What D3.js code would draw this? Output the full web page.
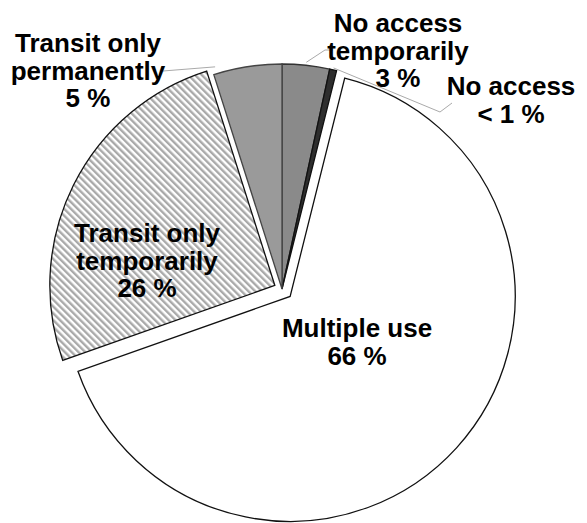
<!DOCTYPE html>
<html>
<head>
<meta charset="utf-8">
<script src="https://cdn.jsdelivr.net/npm/d3@7/dist/d3.min.js"></script>
<style>
  body { margin: 0; background: #fff; }
  text { font-family: "Liberation Sans", Arial, sans-serif; font-weight: bold; font-size: 26px; fill: #000; }
</style>
</head>
<body>
<div id="chart"></div>
<script>
// slices, clockwise from 12 o'clock
var categories = ["No access temporarily", "No access", "Multiple use", "Transit only temporarily", "Transit only permanently"]
var values = [3.4, 0.5, 65.7, 25.5, 4.9]
var nameLines = [["No access", "temporarily"], ["No access"], ["Multiple use"], ["Transit only", "temporarily"], ["Transit only", "permanently"]]
var pctLabels = ["3 %", "< 1 %", "66 %", "26 %", "5 %"]

var width = 587, height = 523
var cx = 282, cy = 289, R = 225
var explode = [0, 0, 11, 8, 0]
var fills = ["#8a8a8a", "#2e2e2e", "#ffffff", "url(#hatch)", "#9a9a9a"]
var strokes = ["#333", "#111", "#111", "#111", "#444"]

// label block: first baseline, relative to pie centre
var labelPos = [[116, -257], [229, -194], [75, 48], [-135, -47], [-194, -237]]
var lineH = 27.5

var svg = d3.select("#chart").append("svg")
    .attr("width", width).attr("height", height)

var defs = svg.append("defs")
var pat = defs.append("pattern")
    .attr("id", "hatch")
    .attr("patternUnits", "userSpaceOnUse")
    .attr("width", 4.8).attr("height", 4.8)
    .attr("patternTransform", "rotate(-45)")
pat.append("rect").attr("width", 4.8).attr("height", 4.8).attr("fill", "#fff")
pat.append("rect").attr("width", 2.4).attr("height", 4.8).attr("fill", "#a9a9a9")

var arcs = d3.pie().sort(null).value(d => d)(values)
var arc = d3.arc().innerRadius(0).outerRadius(R)

function offset(d, i) {
    var mid = (d.startAngle + d.endAngle) / 2
    return [Math.sin(mid) * explode[i], -Math.cos(mid) * explode[i]]
}

var g = svg.append("g").attr("transform", "translate(" + cx + "," + cy + ")")

g.selectAll(".slice")
    .data(arcs)
    .enter()
    .append("path")
    .attr("class", "slice")
    .attr("transform", (d, i) => "translate(" + offset(d, i) + ")")
    .attr("d", arc)
    .attr("fill", (d, i) => fills[i])
    .attr("stroke", (d, i) => strokes[i])
    .attr("stroke-width", 1.3)
    .attr("stroke-linejoin", "miter")

// leader lines for the small slices (angle in pie terms, then bends toward text)
function polar(a, r) { return [Math.sin(a) * r, -Math.cos(a) * r] }
var leaders = [
    { i: 0, at: 0.5, r: R + 3, pts: [[43, -239], [51, -239]] },
    { i: 1, at: 0.5, r: R + 2, pts: [[158, -177], [170, -186]] },
    { i: 4, at: 0.05, r: R + 7, pts: [[-119, -218]] }
]
var line = d3.line()
g.selectAll(".leader")
    .data(leaders)
    .enter()
    .append("path")
    .attr("class", "leader")
    .attr("fill", "none")
    .attr("stroke", "#aaa")
    .attr("stroke-width", 1)
    .attr("d", function(l) {
        var d = arcs[l.i]
        var a = d.startAngle + (d.endAngle - d.startAngle) * l.at
        return line([polar(a, l.r)].concat(l.pts))
    })

// labels
var lab = g.selectAll(".label")
    .data(arcs)
    .enter()
    .append("text")
    .attr("class", "label")
    .attr("text-anchor", "middle")
    .attr("transform", (d, i) => "translate(" + labelPos[i] + ")")

lab.each(function(d, i) {
    var t = d3.select(this)
    var lines = nameLines[i].concat([pctLabels[i]])
    lines.forEach(function(s, k) {
        t.append("tspan").attr("x", 0).attr("y", k * lineH).text(s)
    })
})
</script>
</body>
</html>
